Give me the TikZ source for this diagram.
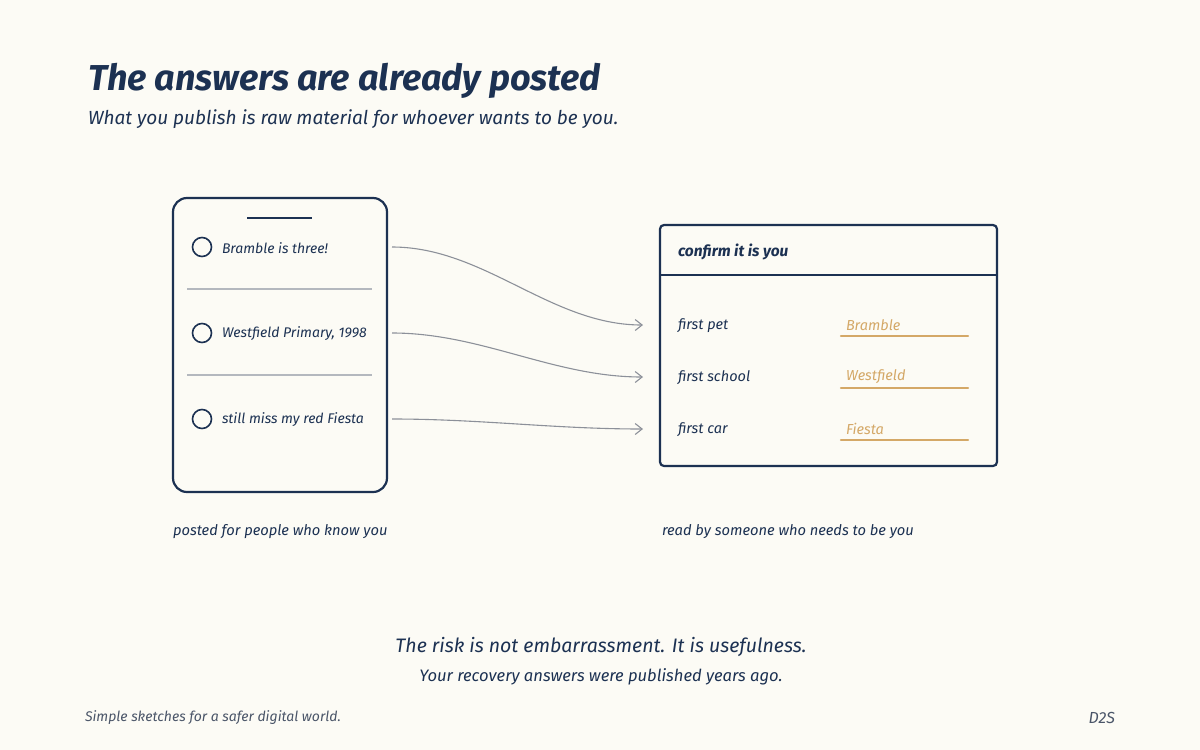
\documentclass[tikz,border=0pt]{standalone}
\usepackage{fontspec}
\setmainfont{Fira Sans}
\usetikzlibrary{arrows.meta}
\definecolor{bg}{HTML}{FCFBF5}
\definecolor{ink}{HTML}{1C3152}
\definecolor{arrowgray}{HTML}{8C9099}
\definecolor{rulegray}{HTML}{B4B8BE}
\definecolor{gold}{HTML}{D4A867}
\definecolor{footgray}{HTML}{4A5568}
\tikzset{
  txt/.style={inner sep=0pt, outer sep=0pt, text=ink, font=\itshape\fontsize{#1}{#1}\selectfont},
  txt/.default=14,
  frame/.style={draw=ink, line width=2.2pt},
  link/.style={draw=arrowgray, line width=1.1pt, -{Straight Barb[length=7pt,width=11pt]}},
  sep/.style={draw=rulegray, line width=1.1pt},
  answer/.style={draw=gold, line width=2.2pt, line cap=round},
}
\begin{document}
\begin{tikzpicture}[x=1pt,y=-1pt]
\fill[bg] (0,0) rectangle (1200,750);
\useasboundingbox (0,0) rectangle (1200,750);

% title
\node[txt=36, font=\bfseries\itshape\fontsize{36}{36}\selectfont, anchor=base west] (title) at (88,90) {The answers are already posted};
\node[txt=19, anchor=base west] (subtitle) at (88,124) {What you publish is raw material for whoever wants to be you.};

% phone
\draw[frame, rounded corners=14pt] (173,198) rectangle (387,492);
\node (phone) at (280,345) [minimum width=214pt, minimum height=294pt, inner sep=0pt] {};
\draw[draw=ink, line width=1.6pt] (247,218) -- (312,218);

\foreach \i/\y/\t in {1/247/{Bramble is three!}, 2/333/{Westfield Primary, 1998}, 3/419/{still miss my red Fiesta}}{
  \draw[draw=ink, line width=1.6pt] (202,\y) circle (9.5pt);
  \node[txt=14, anchor=west] (post\i) at (222,\y+1) {\t};
  \coordinate (src\i) at (392,\y);
}
\draw[sep] (187,289) -- (372,289);
\draw[sep] (187,375) -- (372,375);

% form
\draw[frame, rounded corners=4pt] (660,225) rectangle (997,466);
\draw[draw=ink, line width=1.8pt] (660,275) -- (997,275);
\node[txt=15, font=\bfseries\itshape\fontsize{15.5}{15.5}\selectfont, anchor=west] (formtitle) at (678,252) {confirm it is you};

\foreach \i/\y/\l/\v in {1/325/{first pet}/Bramble, 2/377/{first school}/Westfield, 3/429/{first car}/Fiesta}{
  \node[txt=14.5, anchor=west] (label\i) at (678,\y+1) {\l};
  \node[txt=14.5, text=gold, anchor=west] (value\i) at (846,\y) {\v};
  \coordinate (dst\i) at (643,\y);
  \draw[answer] (841,\y+11) -- (968,\y+11);
}

% connectors
\draw[link] (src1) to[out=0, in=180, looseness=0.9] (dst1);
\draw[link] (src2) to[out=0, in=180, looseness=0.9] (dst2);
\draw[link] (src3) to[out=0, in=180, looseness=0.9] (dst3);

% captions
\node[txt=14.7, anchor=west] (cap1) at (173,532) {posted for people who know you};
\node[txt=14.7, anchor=west] (cap2) at (662,532) {read by someone who needs to be you};

% bottom message
\node[txt=19.5] (risk) at (601,647) {The risk is not embarrassment. It is usefulness.};
\node[txt=16.6] (recovery) at (601,677) {Your recovery answers were published years ago.};

% footer
\node[txt=14, text=footgray, anchor=west] (footer) at (85,718) {Simple sketches for a safer digital world.};
\node[txt=16, text=footgray, anchor=east] (brand) at (1115,718) {D2S};
\end{tikzpicture}
\end{document}
